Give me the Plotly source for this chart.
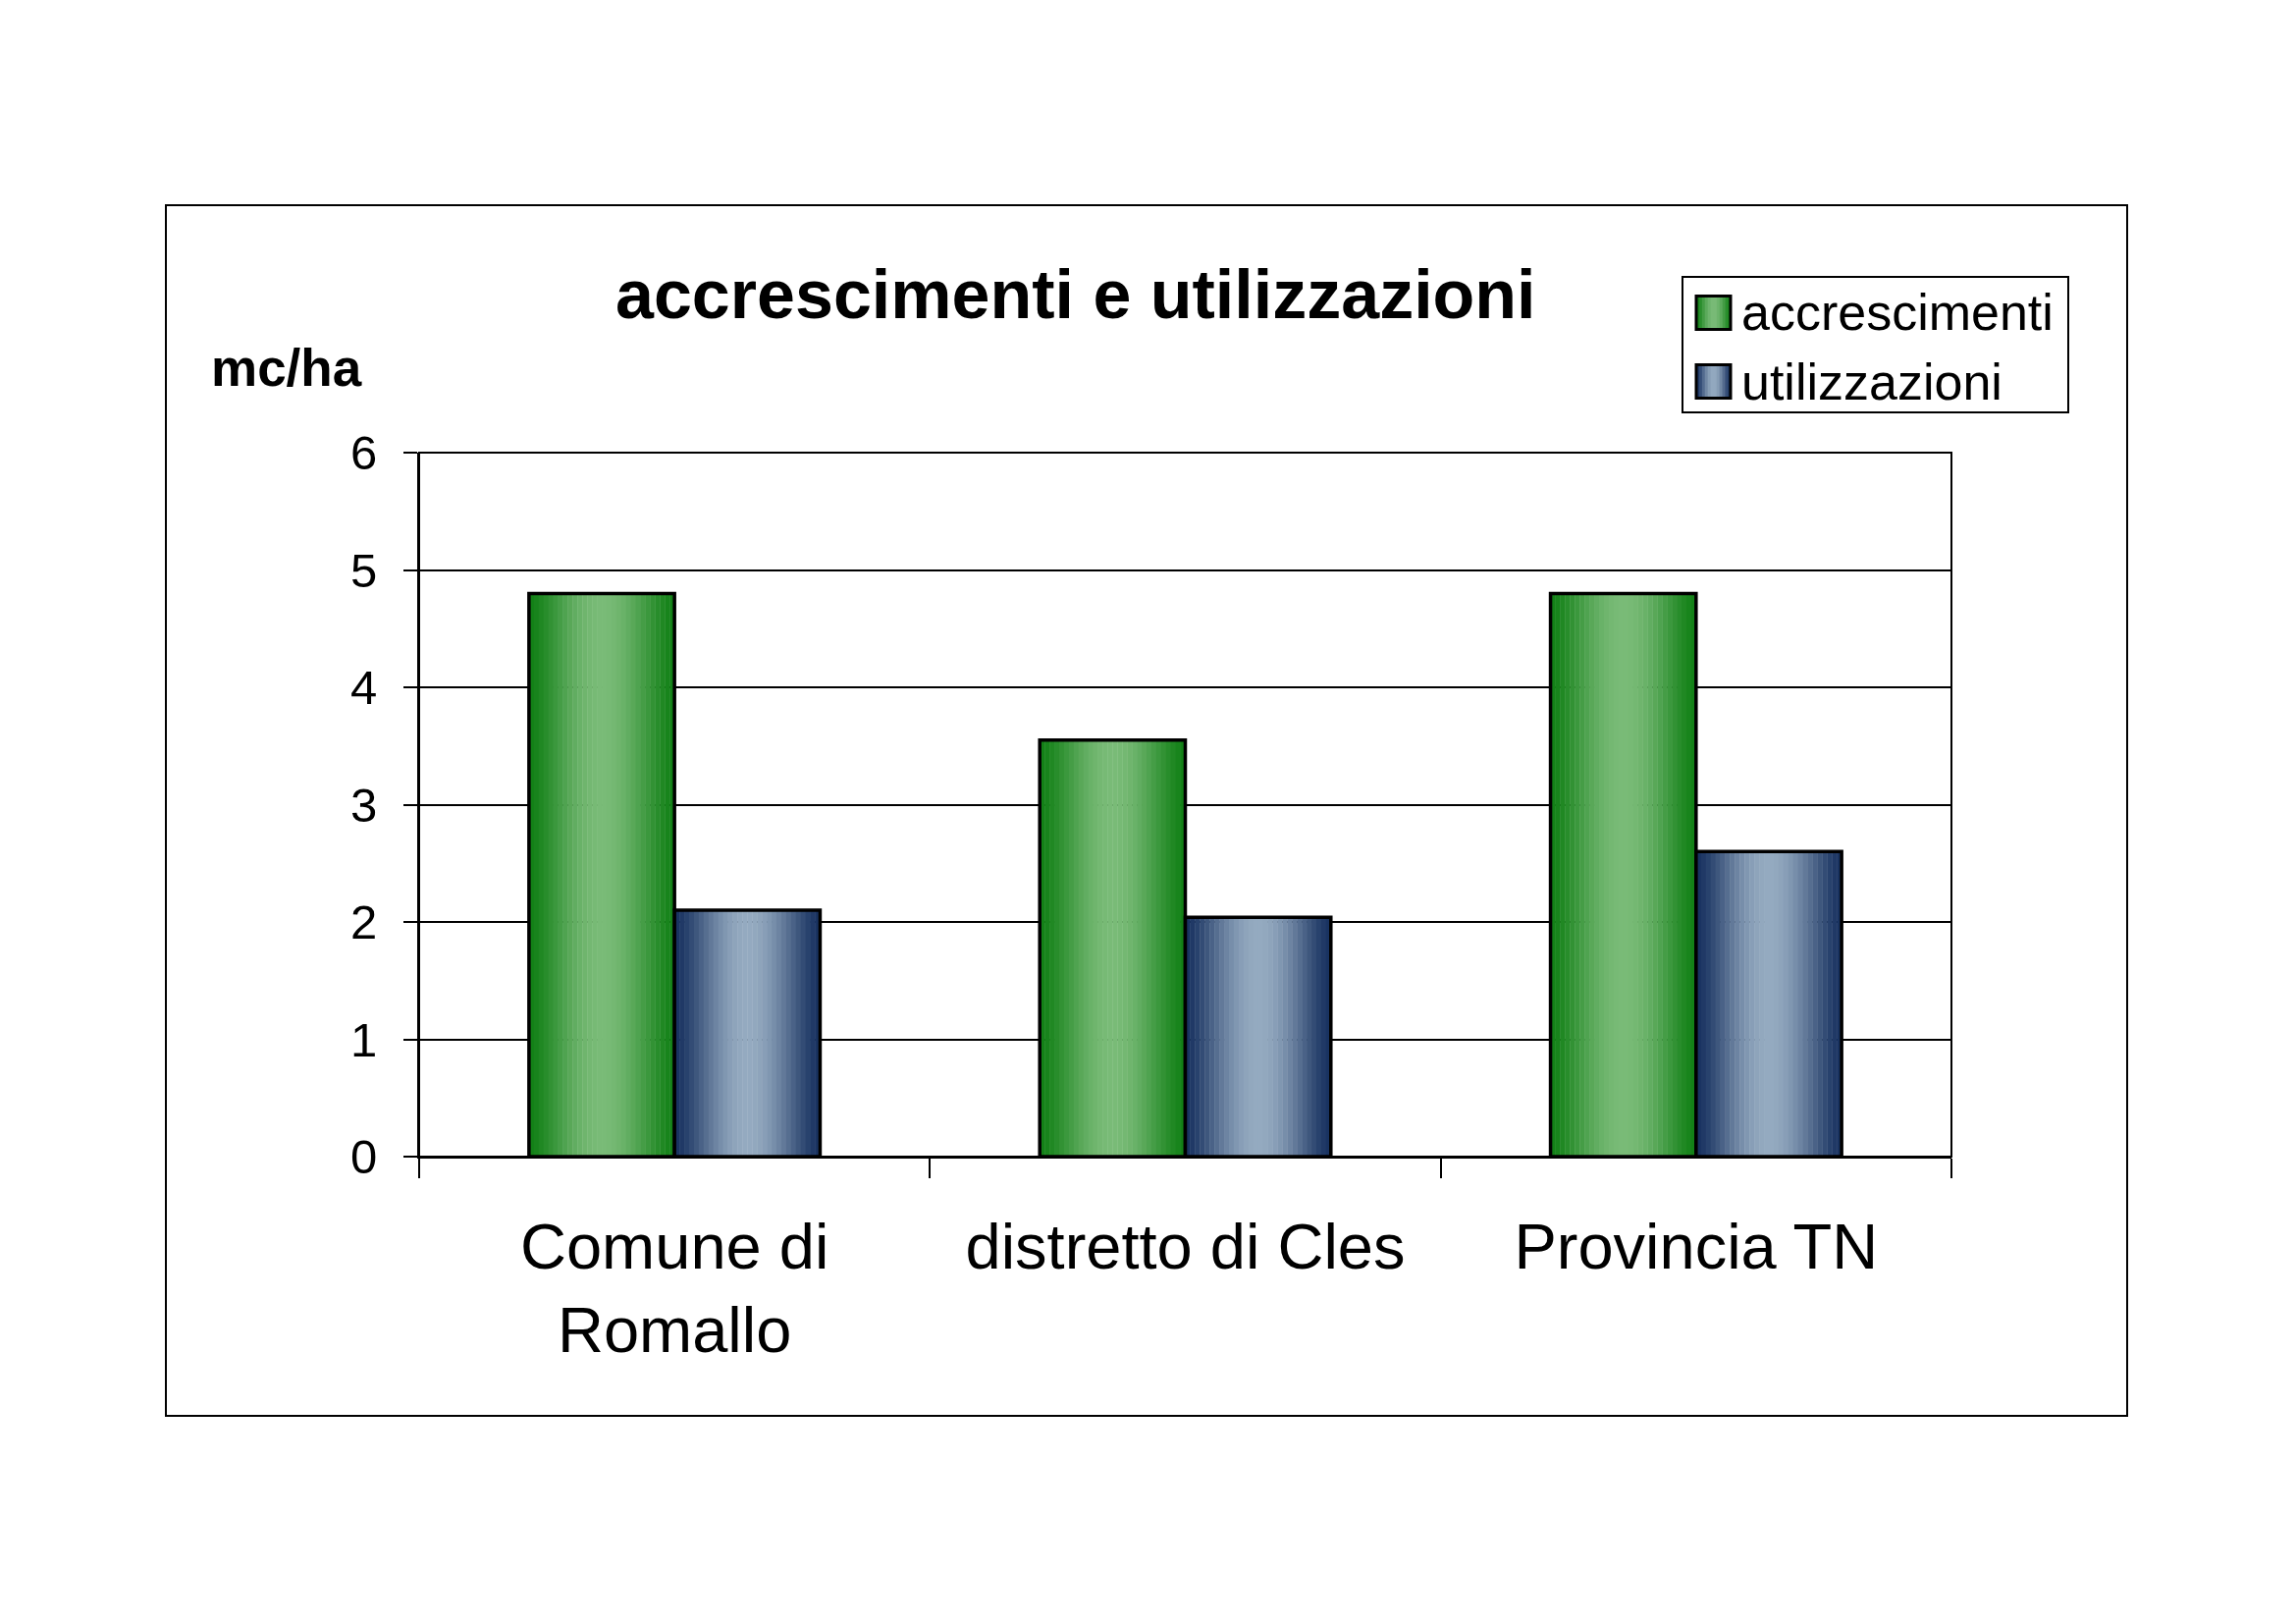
import numpy as np
import plotly.graph_objects as go

# ---------------- data ----------------
categories = ["Comune di<br>Romallo", "distretto di Cles", "Provincia TN"]
accrescimenti = [4.8, 3.55, 4.8]
utilizzazioni = [2.1, 2.04, 2.6]
series_names = ["accrescimenti", "utilizzazioni"]
y_tick_vals = [0, 1, 2, 3, 4, 5, 6]
title_text = "accrescimenti e utilizzazioni"
y_unit = "mc/ha"

# ---------------- style ----------------
FONT = "Liberation Sans, Arial, sans-serif"
GREEN = ((18, 128, 22), (121, 187, 119))
BLUE = ((24, 50, 96), (148, 170, 192))
BAR_W = 0.285
N_STRIPS = 30

# page geometry (pixels of the 2339x1654 page); the html body adds an 8px margin
PAGE_W, PAGE_H = 2339, 1654
OFF = 8
W, H = PAGE_W - OFF, PAGE_H - OFF
PL, PR, PT, PB = 427, 1988, 461, 1178   # plot area in page pixels
L, R, T, B = PL - OFF, PAGE_W - PR, PT - OFF, PAGE_H - PB
PW, PH = PR - PL, PB - PT


def px_x(x):
    return (x - PL) / PW


def px_y(y):
    return (PB - y) / PH


def grad_color(pair, t):
    dark, light = pair
    f = np.sin(np.pi * t) ** 1.5
    c = [int(round(d + (l - d) * f)) for d, l in zip(dark, light)]
    return f"rgb({c[0]},{c[1]},{c[2]})"


fig = go.Figure()

for values, pair, off0 in [(accrescimenti, GREEN, -BAR_W), (utilizzazioni, BLUE, 0.0)]:
    sw = BAR_W / N_STRIPS
    for i in range(N_STRIPS):
        t = (i + 0.5) / N_STRIPS
        fig.add_trace(go.Bar(
            x=categories, y=values,
            width=sw * 1.08, offset=off0 + i * sw,
            marker=dict(color=grad_color(pair, t), line=dict(width=0)),
            showlegend=False, hoverinfo="skip",
        ))
    fig.add_trace(go.Bar(
        x=categories, y=values, width=BAR_W, offset=off0,
        marker=dict(color="rgba(0,0,0,0)", line=dict(color="black", width=3.5)),
        showlegend=False,
    ))

shapes = []
# outer chart frame
shapes.append(dict(type="rect", xref="paper", yref="paper",
                   x0=px_x(169), x1=px_x(2167), y0=px_y(1442), y1=px_y(209),
                   line=dict(color="black", width=2), layer="below"))
# plot area frame
shapes.append(dict(type="rect", xref="paper", yref="paper", x0=0, x1=1, y0=0, y1=1,
                   line=dict(color="black", width=2), layer="below"))
# legend box
shapes.append(dict(type="rect", xref="paper", yref="paper",
                   x0=px_x(1714), x1=px_x(2107), y0=px_y(420), y1=px_y(282),
                   line=dict(color="black", width=2)))

annotations = [
    dict(text=title_text, xref="paper", yref="paper", x=px_x(1096), y=px_y(300),
         xanchor="center", yanchor="middle", showarrow=False,
         font=dict(family=FONT, size=70, color="black", weight="bold")),
    dict(text=y_unit, xref="paper", yref="paper", x=px_x(213), y=px_y(374),
         xanchor="left", yanchor="middle", showarrow=False,
         font=dict(family=FONT, size=53, color="black", weight="bold")),
]

# legend entries (gradient swatches + labels)
for name, pair, yc in [(series_names[0], GREEN, 318.5), (series_names[1], BLUE, 388.5)]:
    x0, x1 = 1728, 1763
    n = 12
    for i in range(n):
        shapes.append(dict(type="rect", xref="paper", yref="paper",
                           x0=px_x(x0 + (x1 - x0) * i / n), x1=px_x(x0 + (x1 - x0) * (i + 1) / n + 0.5),
                           y0=px_y(yc + 17), y1=px_y(yc - 17),
                           fillcolor=grad_color(pair, (i + 0.5) / n), line=dict(width=0)))
    shapes.append(dict(type="rect", xref="paper", yref="paper",
                       x0=px_x(x0), x1=px_x(x1), y0=px_y(yc + 17), y1=px_y(yc - 17),
                       line=dict(color="black", width=3)))
    annotations.append(dict(text=name, xref="paper", yref="paper", x=px_x(1772), y=px_y(yc),
                            xanchor="left", yanchor="middle", showarrow=False,
                            font=dict(family=FONT, size=52, color="black")))

fig.update_layout(
    width=W, height=H,
    margin=dict(l=L, r=R, t=T, b=B),
    paper_bgcolor="white", plot_bgcolor="white",
    barmode="overlay",
    showlegend=False,
    font=dict(family=FONT, color="black"),
    shapes=shapes,
    annotations=annotations,
    xaxis=dict(
        type="category", range=[-0.5, 2.5],
        showgrid=False, showline=True, linecolor="black", linewidth=2,
        ticks="outside", tickson="boundaries", ticklen=20, tickwidth=2, tickcolor="black",
        tickfont=dict(family=FONT, size=65, color="black"),
        ticklabelstandoff=34,
    ),
    yaxis=dict(
        range=[0, 6], tickvals=y_tick_vals,
        showgrid=True, gridcolor="black", gridwidth=2,
        showline=True, linecolor="black", linewidth=2,
        ticks="outside", ticklen=14, tickwidth=2, tickcolor="black",
        tickfont=dict(family=FONT, size=49, color="black"),
        ticklabelstandoff=17, zeroline=False,
    ),
)

fig.write_html("out.html")
